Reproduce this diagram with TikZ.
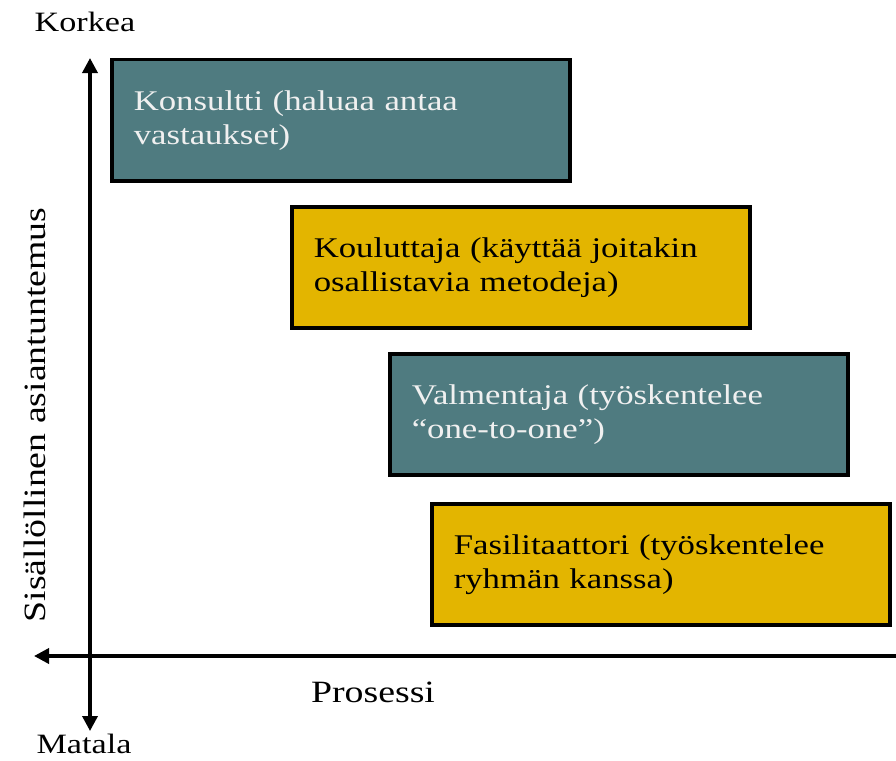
\documentclass[tikz,border=0pt]{standalone}
\usepackage{fontspec}
\setmainfont[FakeStretch=1.22]{Liberation Serif}
\usetikzlibrary{arrows.meta}
\definecolor{tealbox}{HTML}{4F7B80}
\definecolor{goldbox}{HTML}{E3B500}
\tikzset{
  rolebox/.style={draw=black, line width=3.5pt, rectangle, anchor=north west,
    minimum width=458pt, minimum height=121pt, text width=414pt,
    inner xsep=22pt, align=left, font=\fontsize{28.5}{34}\selectfont},
  darkbox/.style={rolebox, fill=tealbox, text=white!94!black},
  lightbox/.style={rolebox, fill=goldbox, text=black},
  axislabel/.style={font=\fontsize{28}{34}\selectfont},
  biglabel/.style={font=\fontsize{31}{36}\selectfont},
  axisline/.style={line width=3.5pt, arrows={-Triangle[length=15pt,width=15pt]}}
}
\begin{document}
\begin{tikzpicture}[x=1pt,y=-1pt]
\useasboundingbox (0,0) rectangle (896,760);
% the four roles, from top to bottom
\node[darkbox] (konsultti) at (110,58) {Konsultti (haluaa antaa\\vastaukset)};
\node[lightbox] (kouluttaja) at (290,205) {Kouluttaja (käyttää joitakin\\osallistavia metodeja)};
\node[darkbox] (valmentaja) at (388,352) {Valmentaja (työskentelee\\“one-to-one”)};
\node[lightbox] (fasilitaattori) at (430,502) {Fasilitaattori (työskentelee\\ryhmän kanssa)};
% axes
\coordinate (ytop) at (90,58);
\coordinate (ybottom) at (90,731);
\coordinate (xleft) at (34,656);
\coordinate (xright) at (896,656);
\draw[axisline, arrows={Triangle[length=15pt,width=15pt]-Triangle[length=15pt,width=15pt]}] (ybottom) -- (ytop);
\draw[axisline] (xright) -- (xleft);
% axis texts
\node[axislabel] (korkea) at (85,22) {Korkea};
\node[axislabel] (matala) at (84,744) {Matala};
\node[biglabel] (prosessi) at (373,692) {Prosessi};
\node[biglabel, rotate=90] (asiantuntemus) at (35,415) {Sisällöllinen asiantuntemus};
\end{tikzpicture}
\end{document}
